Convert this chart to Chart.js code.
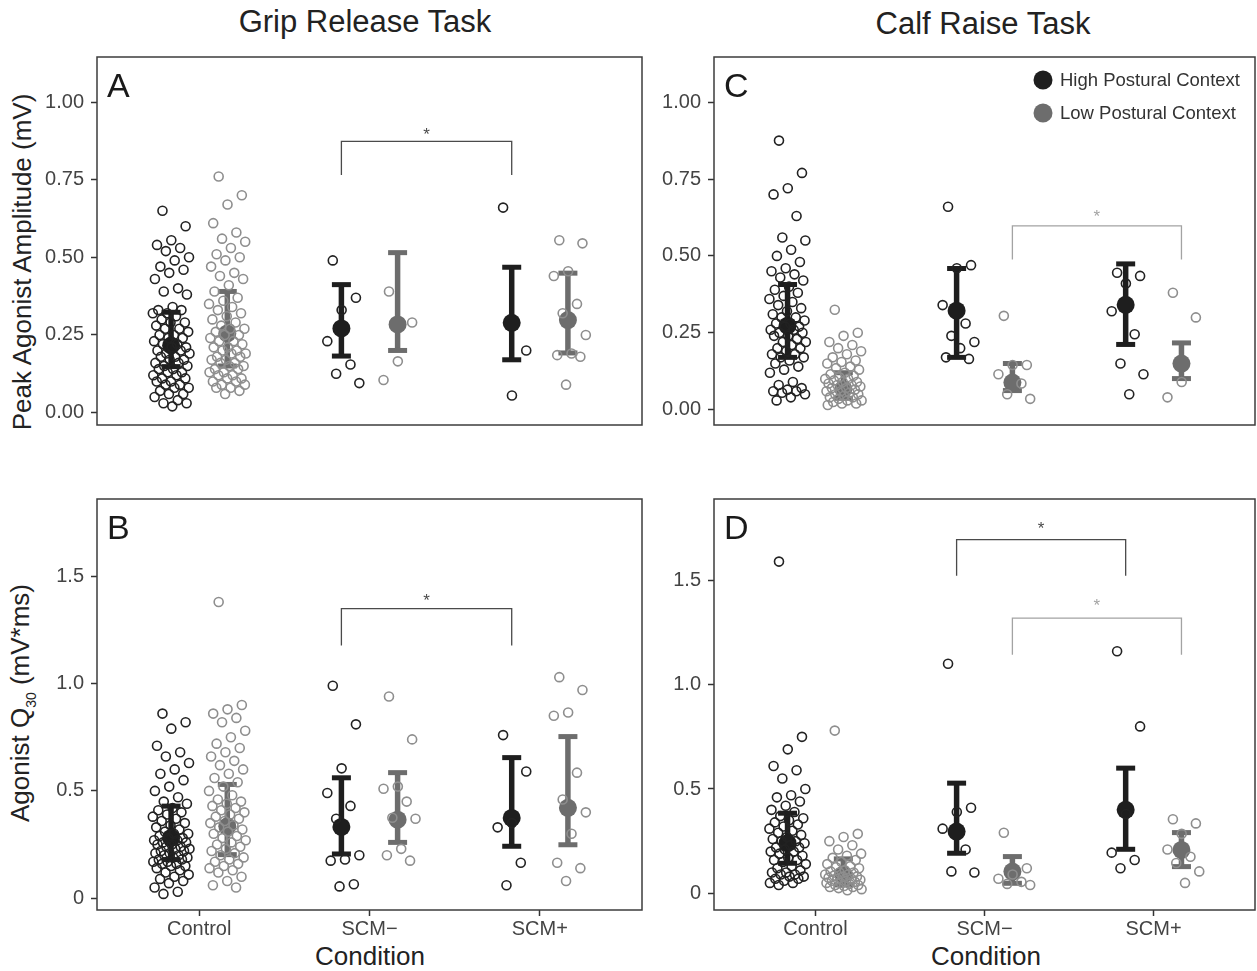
<!DOCTYPE html>
<html>
<head>
<meta charset="utf-8">
<script src="https://cdn.jsdelivr.net/npm/chart.js@4.4.0/dist/chart.umd.min.js"></script>
<style>
body { margin: 0; background: #fff; width: 1257px; height: 971px; position: relative; overflow: hidden;
       font-family: "Liberation Sans", Arial, sans-serif; color: #222; }
canvas { position: absolute; }
.t { position: absolute; white-space: nowrap; transform: translate(-50%, -50%); }
.yt { position: absolute; white-space: nowrap; transform: translate(-50%, -50%) rotate(-90deg); font-size: 26px; }
.yt sub { font-size: 14px; }
</style>
</head>
<body>
<div class="t" style="left:365px;top:22px;font-size:31px">Grip Release Task</div>
<div class="t" style="left:983px;top:24px;font-size:31px">Calf Raise Task</div>
<div class="yt" style="left:22px;top:262px">Peak Agonist Amplitude (mV)</div>
<div class="yt" style="left:22px;top:703px">Agonist Q<sub>30</sub> (mV*ms)</div>
<div class="t" style="left:370px;top:956px;font-size:26px">Condition</div>
<div class="t" style="left:986px;top:956px;font-size:26px">Condition</div>

<canvas id="cA" width="650" height="475" style="left:0;top:0"></canvas>
<canvas id="cB" width="650" height="491" style="left:0;top:480px"></canvas>
<canvas id="cC" width="607" height="475" style="left:650px;top:0"></canvas>
<canvas id="cD" width="607" height="491" style="left:650px;top:480px"></canvas>

<script>
// Categories on the x axis
const categories = ['Control', 'SCM\u2212', 'SCM+'];
const ampTicks = [0, 0.25, 0.5, 0.75, 1.0];
const qTicks = [0, 0.5, 1.0, 1.5];

// Panel A - grip release, peak agonist amplitude (mV); one sub-array per category
const gripAmpHigh = [
    [0.65, 0.60, 0.555, 0.54, 0.53, 0.52, 0.50, 0.49, 0.47, 0.46, 0.45, 0.43, 0.40, 0.39, 0.38, 0.34, 0.33, 0.33,
     0.32, 0.32, 0.31, 0.30, 0.29, 0.29, 0.28, 0.27, 0.27, 0.26, 0.25, 0.25, 0.24, 0.24, 0.23, 0.22, 0.22, 0.21,
     0.21, 0.20, 0.20, 0.19, 0.19, 0.18, 0.18, 0.17, 0.17, 0.16, 0.16, 0.15, 0.15, 0.14, 0.14, 0.13, 0.13, 0.12,
     0.12, 0.11, 0.11, 0.10, 0.10, 0.09, 0.09, 0.08, 0.08, 0.07, 0.06, 0.06, 0.05, 0.04, 0.03, 0.03, 0.02],
    [0.49, 0.37, 0.33, 0.23, 0.155, 0.125, 0.095],
    [0.66, 0.20, 0.055]
];
const gripAmpLow = [
    [0.76, 0.70, 0.67, 0.61, 0.58, 0.56, 0.55, 0.53, 0.51, 0.50, 0.49, 0.47, 0.45, 0.44, 0.43, 0.41, 0.39, 0.37,
     0.36, 0.35, 0.34, 0.33, 0.32, 0.31, 0.30, 0.29, 0.28, 0.27, 0.27, 0.26, 0.25, 0.25, 0.24, 0.23, 0.23, 0.22,
     0.21, 0.21, 0.20, 0.20, 0.19, 0.19, 0.18, 0.18, 0.17, 0.17, 0.16, 0.16, 0.15, 0.15, 0.14, 0.14, 0.13, 0.13,
     0.12, 0.12, 0.11, 0.11, 0.10, 0.10, 0.09, 0.09, 0.08, 0.08, 0.07, 0.06],
    [0.39, 0.29, 0.165, 0.105],
    [0.555, 0.545, 0.455, 0.44, 0.35, 0.32, 0.25, 0.19, 0.185, 0.18, 0.09]
];
const gripAmpHighMean = [0.216, 0.271, 0.289];
const gripAmpHighLo = [0.148, 0.182, 0.170];
const gripAmpHighHi = [0.323, 0.412, 0.468];
const gripAmpLowMean = [0.255, 0.284, 0.298];
const gripAmpLowLo = [0.150, 0.200, 0.192];
const gripAmpLowHi = [0.390, 0.515, 0.449];

// Panel B - grip release, agonist Q30 (mV*ms)
const gripQHigh = [
    [0.86, 0.82, 0.79, 0.71, 0.68, 0.66, 0.63, 0.60, 0.58, 0.55, 0.52, 0.50, 0.47, 0.45, 0.44, 0.42, 0.41, 0.40,
     0.39, 0.38, 0.37, 0.36, 0.35, 0.34, 0.33, 0.32, 0.31, 0.30, 0.30, 0.29, 0.28, 0.28, 0.27, 0.27, 0.26, 0.26,
     0.25, 0.25, 0.24, 0.24, 0.23, 0.23, 0.22, 0.22, 0.21, 0.21, 0.20, 0.20, 0.19, 0.19, 0.18, 0.18, 0.17, 0.17,
     0.16, 0.16, 0.15, 0.15, 0.14, 0.13, 0.12, 0.11, 0.10, 0.09, 0.08, 0.07, 0.05, 0.03, 0.02],
    [0.99, 0.81, 0.605, 0.49, 0.43, 0.37, 0.20, 0.18, 0.175, 0.065, 0.055],
    [0.76, 0.59, 0.35, 0.33, 0.165, 0.06]
];
const gripQLow = [
    [1.38, 0.90, 0.88, 0.86, 0.84, 0.82, 0.78, 0.75, 0.72, 0.70, 0.68, 0.66, 0.64, 0.62, 0.60, 0.58, 0.56, 0.54,
     0.52, 0.50, 0.48, 0.46, 0.45, 0.44, 0.43, 0.42, 0.41, 0.40, 0.39, 0.38, 0.37, 0.36, 0.35, 0.34, 0.33, 0.32,
     0.31, 0.30, 0.29, 0.28, 0.27, 0.26, 0.25, 0.24, 0.23, 0.22, 0.21, 0.20, 0.19, 0.18, 0.17, 0.16, 0.15, 0.14,
     0.13, 0.12, 0.10, 0.08, 0.06, 0.05],
    [0.94, 0.74, 0.52, 0.51, 0.45, 0.375, 0.37, 0.23, 0.20, 0.175],
    [1.03, 0.97, 0.865, 0.85, 0.585, 0.46, 0.40, 0.30, 0.165, 0.14, 0.08]
];
const gripQHighMean = [0.281, 0.332, 0.374];
const gripQHighLo = [0.180, 0.206, 0.242];
const gripQHighHi = [0.429, 0.561, 0.655];
const gripQLowMean = [0.335, 0.366, 0.421];
const gripQLowLo = [0.203, 0.260, 0.249];
const gripQLowHi = [0.530, 0.585, 0.753];

// Panel C - calf raise, peak agonist amplitude (mV)
const calfAmpHigh = [
    [0.875, 0.77, 0.72, 0.70, 0.63, 0.56, 0.55, 0.52, 0.50, 0.48, 0.46, 0.45, 0.44, 0.43, 0.42, 0.40, 0.39, 0.38,
     0.37, 0.36, 0.35, 0.34, 0.33, 0.32, 0.31, 0.30, 0.30, 0.29, 0.28, 0.28, 0.27, 0.27, 0.26, 0.26, 0.25, 0.25,
     0.24, 0.24, 0.23, 0.22, 0.22, 0.21, 0.20, 0.20, 0.19, 0.18, 0.18, 0.17, 0.17, 0.16, 0.15, 0.14, 0.13, 0.12,
     0.09, 0.08, 0.07, 0.065, 0.06, 0.06, 0.055, 0.05, 0.04, 0.03],
    [0.66, 0.47, 0.46, 0.34, 0.28, 0.24, 0.22, 0.20, 0.17, 0.165],
    [0.445, 0.435, 0.41, 0.32, 0.245, 0.15, 0.115, 0.05]
];
const calfAmpLow = [
    [0.325, 0.25, 0.24, 0.22, 0.21, 0.20, 0.19, 0.18, 0.17, 0.16, 0.155, 0.15, 0.14, 0.135, 0.13, 0.12, 0.115, 0.11,
     0.105, 0.10, 0.10, 0.095, 0.09, 0.09, 0.085, 0.08, 0.08, 0.075, 0.07, 0.07, 0.065, 0.06, 0.06, 0.055, 0.05,
     0.05, 0.045, 0.04, 0.04, 0.035, 0.03, 0.03, 0.025, 0.02, 0.02, 0.015],
    [0.305, 0.145, 0.145, 0.115, 0.085, 0.05, 0.035],
    [0.38, 0.30, 0.09, 0.04]
];
const calfAmpHighMean = [0.273, 0.322, 0.341];
const calfAmpHighLo = [0.170, 0.170, 0.212];
const calfAmpHighHi = [0.407, 0.459, 0.474];
const calfAmpLowMean = [0.067, 0.088, 0.150];
const calfAmpLowLo = [0.037, 0.062, 0.101];
const calfAmpLowHi = [0.120, 0.150, 0.217];

// Panel D - calf raise, agonist Q30 (mV*ms)
const calfQHigh = [
    [1.59, 0.75, 0.69, 0.61, 0.59, 0.55, 0.50, 0.47, 0.46, 0.44, 0.42, 0.40, 0.39, 0.37, 0.36, 0.35, 0.34, 0.33,
     0.32, 0.31, 0.30, 0.29, 0.28, 0.27, 0.26, 0.25, 0.25, 0.24, 0.23, 0.22, 0.22, 0.21, 0.20, 0.20, 0.19, 0.18,
     0.17, 0.16, 0.16, 0.15, 0.14, 0.13, 0.12, 0.11, 0.10, 0.10, 0.09, 0.09, 0.08, 0.08, 0.07, 0.07, 0.06, 0.05,
     0.05, 0.04],
    [1.10, 0.41, 0.39, 0.31, 0.21, 0.105, 0.10],
    [1.16, 0.80, 0.38, 0.195, 0.16, 0.12]
];
const calfQLow = [
    [0.78, 0.285, 0.27, 0.25, 0.23, 0.21, 0.19, 0.18, 0.17, 0.16, 0.15, 0.14, 0.13, 0.125, 0.12, 0.11, 0.105, 0.10,
     0.10, 0.09, 0.09, 0.085, 0.08, 0.08, 0.075, 0.07, 0.07, 0.065, 0.06, 0.06, 0.055, 0.05, 0.05, 0.045, 0.04,
     0.04, 0.035, 0.03, 0.03, 0.025, 0.02, 0.015],
    [0.29, 0.12, 0.09, 0.07, 0.055, 0.045, 0.04],
    [0.355, 0.335, 0.285, 0.21, 0.175, 0.145, 0.105, 0.05]
];
const calfQHighMean = [0.240, 0.296, 0.400];
const calfQHighLo = [0.144, 0.192, 0.211];
const calfQHighHi = [0.384, 0.528, 0.600];
const calfQLowMean = [0.090, 0.104, 0.208];
const calfQLowLo = [0.040, 0.048, 0.128];
const calfQLowHi = [0.165, 0.176, 0.291];

// Significance brackets: category pair, group, bracket top / leg bottom / star height
const gripAmpBrackets = [{ from: 2, to: 3, group: 'high', top: 0.873, bottom: 0.765, star: 0.91 }];
const gripQBrackets = [{ from: 2, to: 3, group: 'high', top: 1.349, bottom: 1.177, star: 1.41 }];
const calfAmpBrackets = [{ from: 2, to: 3, group: 'low', top: 0.598, bottom: 0.488, star: 0.643 }];
const calfQBrackets = [
    { from: 2, to: 3, group: 'high', top: 1.695, bottom: 1.522, star: 1.77 },
    { from: 2, to: 3, group: 'low', top: 1.319, bottom: 1.143, star: 1.40 }
];

const DODGE = 0.165;
const JITTER = 0.11;
const FONT = '"Liberation Sans", Arial, sans-serif';
const style = {
    high: { point: '#222222', mean: '#1e1e1e', bracket: '#4a4a4a' },
    low: { point: '#8e8e8e', mean: '#6d6d6d', bracket: '#a3a3a3' }
};

// deterministic horizontal spread for the raw points
function jitter(i) {
    return (((i * 0.6180339887 + 0.27) % 1) * 2 - 1) * JITTER;
}

function groupX(cat, group) {
    return cat + (group === 'high' ? -DODGE : DODGE);
}

function buildDatasets(p) {
    const ds = [];
    ['high', 'low'].forEach(group => {
        const g = p[group];
        const s = style[group];
        // error bars
        g.mean.forEach((m, i) => {
            const x = groupX(i + 1, group);
            ds.push({
                data: [{ x: x, y: g.lo[i] }, { x: x, y: g.hi[i] }],
                showLine: true,
                borderColor: s.mean,
                borderWidth: 5.5,
                pointStyle: 'line',
                pointRadius: 9.5,
                pointBorderWidth: 5,
                pointBorderColor: s.mean,
                order: 3
            });
        });
        // means
        ds.push({
            data: g.mean.map((m, i) => ({ x: groupX(i + 1, group), y: m })),
            pointRadius: 9,
            backgroundColor: s.mean,
            borderWidth: 0,
            order: 2
        });
        // raw points
        const pts = [];
        g.points.forEach((vals, c) => {
            vals.forEach((v, i) => pts.push({ x: groupX(c + 1, group) + jitter(i), y: v }));
        });
        ds.push({
            data: pts,
            pointRadius: 4.5,
            borderWidth: 1.6,
            borderColor: s.point,
            backgroundColor: 'rgba(255,255,255,0)',
            order: 1
        });
    });
    p.brackets.forEach(b => {
        const x1 = groupX(b.from, b.group), x2 = groupX(b.to, b.group);
        ds.push({
            data: [{ x: x1, y: b.bottom }, { x: x1, y: b.top }, { x: x2, y: b.top }, { x: x2, y: b.bottom }],
            showLine: true,
            borderColor: style[b.group].bracket,
            borderWidth: 1.3,
            pointRadius: 0,
            order: 0
        });
    });
    return ds;
}

// frame, panel letter, asterisks, legend
const decor = {
    id: 'decor',
    afterDraw(chart, args, opts) {
        const { ctx, chartArea: a, scales: { x, y } } = chart;
        ctx.save();
        ctx.strokeStyle = '#3c3c3c';
        ctx.lineWidth = 1.5;
        ctx.strokeRect(a.left, a.top, a.right - a.left, a.bottom - a.top);

        ctx.fillStyle = '#1a1a1a';
        ctx.font = '34px ' + FONT;
        ctx.textAlign = 'left';
        ctx.textBaseline = 'alphabetic';
        ctx.fillText(opts.letter, a.left + 10, a.top + 40);

        ctx.textAlign = 'center';
        ctx.font = '17px ' + FONT;
        opts.brackets.forEach(b => {
            const cx = x.getPixelForValue((groupX(b.from, b.group) + groupX(b.to, b.group)) / 2);
            ctx.fillStyle = style[b.group].bracket;
            ctx.fillText('*', cx, y.getPixelForValue(b.star) + 10);
        });

        if (opts.legend) {
            ctx.textAlign = 'left';
            ctx.textBaseline = 'middle';
            ctx.font = '18.5px ' + FONT;
            [['High Postural Context', style.high.mean], ['Low Postural Context', style.low.mean]].forEach((item, i) => {
                const cy = a.top + 23 + i * 33;
                ctx.fillStyle = item[1];
                ctx.beginPath();
                ctx.arc(a.right - 212, cy, 9.5, 0, Math.PI * 2);
                ctx.fill();
                ctx.fillStyle = '#333';
                ctx.fillText(item[0], a.right - 195, cy + 1);
            });
        }
        ctx.restore();
    }
};

function makePanel(p) {
    const tickFont = { family: FONT, size: 20 };
    new Chart(document.getElementById(p.canvas), {
        type: 'scatter',
        data: { datasets: buildDatasets(p) },
        options: {
            responsive: false,
            animation: false,
            events: [],
            layout: { autoPadding: false, padding: p.padding },
            plugins: {
                legend: { display: false },
                tooltip: { enabled: false },
                decor: { letter: p.letter, brackets: p.brackets, legend: p.legend }
            },
            scales: {
                x: {
                    type: 'linear',
                    min: 0.4,
                    max: 3.6,
                    display: p.showX,
                    afterBuildTicks: axis => { axis.ticks = [1, 2, 3].map(v => ({ value: v })); },
                    afterFit: axis => { axis.height = 40; },
                    ticks: { font: tickFont, color: '#444', padding: 1, callback: v => categories[v - 1] },
                    grid: { drawOnChartArea: false, drawTicks: true, tickLength: 6, tickWidth: 1.5, tickColor: '#333' },
                    border: { display: false }
                },
                y: {
                    type: 'linear',
                    min: p.yMin,
                    max: p.yMax,
                    afterBuildTicks: axis => { axis.ticks = p.yTicks.map(v => ({ value: v })); },
                    afterFit: axis => { axis.width = p.yWidth; },
                    ticks: { font: tickFont, color: '#444', padding: 7, callback: p.fmt },
                    grid: { drawOnChartArea: false, drawTicks: true, tickLength: 6, tickWidth: 1.5, tickColor: '#333' },
                    border: { display: false }
                }
            }
        },
        plugins: [decor]
    });
}

const fmtAmp = v => v.toFixed(2);
const fmtQ = v => (v === 0 ? '0' : v.toFixed(1));

makePanel({
    canvas: 'cA', letter: 'A', showX: false, yWidth: 97, yMin: -0.04, yMax: 1.145, yTicks: ampTicks, fmt: fmtAmp,
    padding: { top: 57, right: 8, bottom: 10, left: 0 },
    high: { points: gripAmpHigh, mean: gripAmpHighMean, lo: gripAmpHighLo, hi: gripAmpHighHi },
    low: { points: gripAmpLow, mean: gripAmpLowMean, lo: gripAmpLowLo, hi: gripAmpLowHi },
    brackets: gripAmpBrackets
});
makePanel({
    canvas: 'cB', letter: 'B', showX: true, yWidth: 97, yMin: -0.055, yMax: 1.86, yTicks: qTicks, fmt: fmtQ,
    padding: { top: 16, right: 8, bottom: 21, left: 0 },
    high: { points: gripQHigh, mean: gripQHighMean, lo: gripQHighLo, hi: gripQHighHi },
    low: { points: gripQLow, mean: gripQLowMean, lo: gripQLowLo, hi: gripQLowHi },
    brackets: gripQBrackets
});
makePanel({
    canvas: 'cC', letter: 'C', showX: false, yWidth: 64, yMin: -0.05, yMax: 1.147, yTicks: ampTicks, fmt: fmtAmp,
    padding: { top: 57, right: 2, bottom: 10, left: 0 }, legend: true,
    high: { points: calfAmpHigh, mean: calfAmpHighMean, lo: calfAmpHighLo, hi: calfAmpHighHi },
    low: { points: calfAmpLow, mean: calfAmpLowMean, lo: calfAmpLowLo, hi: calfAmpLowHi },
    brackets: calfAmpBrackets
});
makePanel({
    canvas: 'cD', letter: 'D', showX: true, yWidth: 64, yMin: -0.08, yMax: 1.89, yTicks: qTicks, fmt: fmtQ,
    padding: { top: 16, right: 2, bottom: 21, left: 0 },
    high: { points: calfQHigh, mean: calfQHighMean, lo: calfQHighLo, hi: calfQHighHi },
    low: { points: calfQLow, mean: calfQLowMean, lo: calfQLowLo, hi: calfQLowHi },
    brackets: calfQBrackets
});
</script>
</body>
</html>
